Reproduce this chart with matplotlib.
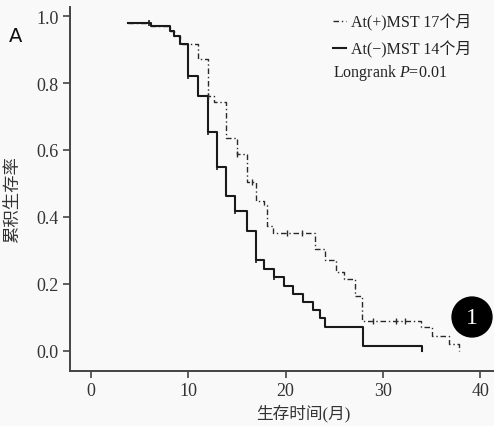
import matplotlib
matplotlib.use("Agg")
import matplotlib.pyplot as plt

plt.rcParams['font.family'] = ['Liberation Serif', 'Noto Sans CJK SC']
plt.rcParams['mathtext.fontset'] = 'custom'
plt.rcParams['mathtext.rm'] = 'Liberation Serif'
plt.rcParams['mathtext.it'] = 'Liberation Serif:italic'

# At(-) group, solid line: event times (months) and survival after each step
neg_t = [3.8, 6.2, 8.1, 8.5, 9.1, 10.0, 11.0, 12.0, 12.9, 13.9, 14.8, 16.0, 17.0,
         17.8, 18.8, 19.8, 20.8, 21.8, 22.8, 23.5, 24.0, 27.9, 34.0]
neg_s = [0.979, 0.970, 0.955, 0.940, 0.916, 0.822, 0.762, 0.653, 0.548, 0.464, 0.419,
         0.359, 0.270, 0.245, 0.220, 0.195, 0.170, 0.147, 0.122, 0.097, 0.072, 0.016, 0.0]
neg_cens_t = [6.0, 10.0, 12.0, 12.9, 14.8, 17.0, 18.8]
neg_cens_s = [0.979, 0.822, 0.653, 0.548, 0.419, 0.270, 0.220]

# At(+) group, dash-dot line
pos_t = [3.8, 6.2, 8.1, 8.5, 9.1, 11.0, 12.0, 12.6, 13.9, 15.0, 16.0, 17.0, 17.8,
         18.1, 18.7, 23.0, 24.0, 25.2, 26.0, 27.1, 27.8, 33.9, 35.0, 36.8, 37.8]
pos_s = [0.979, 0.970, 0.955, 0.940, 0.916, 0.872, 0.762, 0.742, 0.635, 0.588, 0.504,
         0.449, 0.435, 0.374, 0.352, 0.304, 0.270, 0.235, 0.215, 0.165, 0.090, 0.072,
         0.046, 0.021, 0.0]
pos_cens_t = [12.0, 15.0, 16.5, 20.1, 21.7, 29.0, 31.3, 32.3]
pos_cens_s = [0.762, 0.588, 0.504, 0.352, 0.352, 0.090, 0.090, 0.090]

labels = ['At(+)MST 17个月', 'At(\u2212)MST 14个月']

fig = plt.figure(figsize=(4.94, 4.27), dpi=100, facecolor='#f9f9f9')
ax = fig.add_axes([70/494, 1 - 372/427, 424/494, 364/427])
ax.set_facecolor('#f9f9f9')

l1, = ax.plot(pos_t, pos_s, drawstyle='steps-post', color='#2a2a2a', lw=1.0,
              linestyle=(0, (4, 2, 1, 2)))
l2, = ax.plot(neg_t, neg_s, drawstyle='steps-post', color='#1a1a1a', lw=1.5)
ax.plot(pos_cens_t, pos_cens_s, '|', color='#2a2a2a', ms=5, mew=1.0)
ax.plot(neg_cens_t, neg_cens_s, '|', color='#1a1a1a', ms=5, mew=1.2)

ax.set_xlim(-2.15, 41.4)
ax.set_ylim(-0.06, 1.027)
ax.set_xticks([0, 10, 20, 30, 40])
ax.set_yticks([0.0, 0.2, 0.4, 0.6, 0.8, 1.0])
ax.set_yticklabels(['0.0', '0.2', '0.4', '0.6', '0.8', '1.0'])
for s in ['top', 'right']:
    ax.spines[s].set_visible(False)
for s in ['left', 'bottom']:
    ax.spines[s].set_linewidth(1.4)
    ax.spines[s].set_color('#444444')
ax.tick_params(direction='out', length=5, width=1.2, color='#444444',
               labelsize=13, labelcolor='#333333', pad=3)

fig.text(303/494, 1 - 414/427, '生存时间(月)', fontsize=12, color='#333333',
         ha='center', va='center')
fig.text(13/494, 1 - 200/427, '累积生存率', fontsize=12.5, color='#333333',
         ha='center', va='center', rotation=90)

ax.legend([l1, l2], labels, loc='upper left', bbox_to_anchor=(333/494, 1 - 14/427),
          bbox_transform=fig.transFigure, frameon=False, fontsize=11.5,
          handlelength=0.8, handletextpad=0.35, labelspacing=0.62, borderpad=0,
          borderaxespad=0, labelcolor='#222222')
fig.text(333/494, 1 - 73/427, 'Longrank $\\mathit{P}$=0.01', fontsize=11.5,
         color='#222222', va='center', ha='left')

fig.text(16/494, 1 - 37/427, 'A', family='DejaVu Sans', fontsize=14,
         color='#111111', ha='center', va='center')
fig.text(472/494, 1 - 318/427, '1', fontsize=17, color='white', ha='center',
         va='center', bbox=dict(boxstyle='circle,pad=0.4', fc='black', ec='black'))

fig.savefig('out.png', dpi=100, facecolor=fig.get_facecolor())
